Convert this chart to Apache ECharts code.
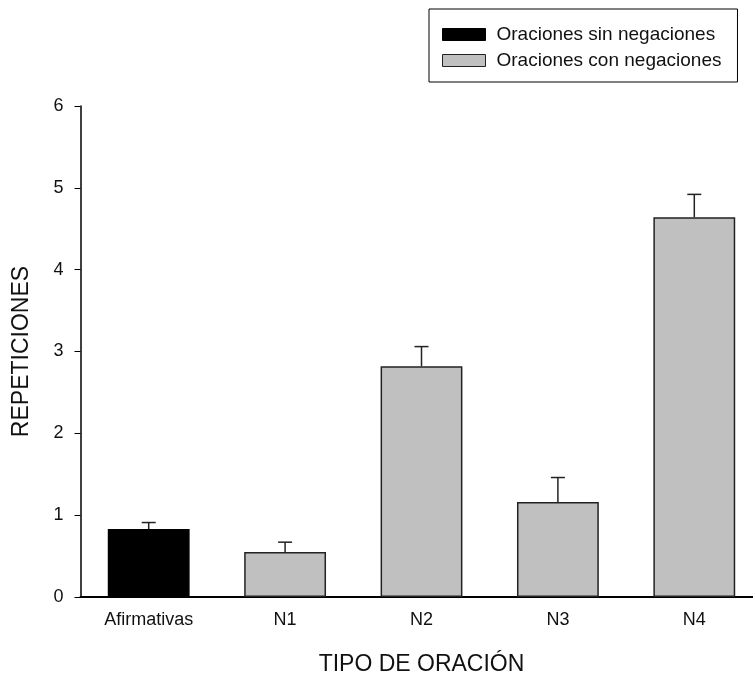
<!DOCTYPE html>
<html>
<head>
<meta charset="utf-8">
<script src="https://cdn.jsdelivr.net/npm/echarts@6/dist/echarts.min.js"></script>
<style>html,body{margin:0;padding:0;background:#fff}#c{width:753px;height:678px}</style>
</head>
<body>
<div id="c"></div>
<script>
const categories = ['Afirmativas', 'N1', 'N2', 'N3', 'N4'];
const seriesNames = ['Oraciones sin negaciones', 'Oraciones con negaciones'];
const sinNegaciones = [0.83, null, null, null, null];
const conNegaciones = [null, 0.55, 2.82, 1.16, 4.64];
const errorUpper = [0.91, 0.67, 3.06, 1.46, 4.92];
const yTicks = [0, 1, 2, 3, 4, 5, 6];

const means = categories.map((c, i) => sinNegaciones[i] != null ? sinNegaciones[i] : conNegaciones[i]);
const errData = categories.map((c, i) => [i, means[i], errorUpper[i]]);
const FONT = 'Liberation Sans, Arial, sans-serif';

const chart = echarts.init(document.getElementById('c'), null, {renderer: 'canvas'});
chart.setOption({
  animation: false,
  backgroundColor: '#fff',
  grid: {left: 80.5, top: 106, width: 682, height: 491, containLabel: false, outerBoundsMode: 'none'},
  legend: {
    orient: 'vertical',
    left: 429, top: 9,
    padding: [16, 16, 12, 13],
    borderColor: '#000', borderWidth: 1,
    icon: 'rect',
    itemWidth: 43, itemHeight: 12, itemGap: 7,
    selectedMode: false,
    textStyle: {fontFamily: FONT, fontSize: 19, color: '#111', padding: [0, 0, 0, 6]},
    data: [
      {name: seriesNames[0], itemStyle: {color: '#000', borderColor: '#000', borderWidth: 1}},
      {name: seriesNames[1], itemStyle: {color: '#c0c0c0', borderColor: '#222', borderWidth: 1}}
    ]
  },
  xAxis: {
    type: 'category',
    data: categories,
    name: 'TIPO DE ORACIÓN',
    nameLocation: 'middle',
    nameGap: 56,
    nameTextStyle: {fontFamily: FONT, fontSize: 23, color: '#111'},
    axisLine: {lineStyle: {color: '#000', width: 2}},
    axisTick: {alignWithLabel: true, length: 7, lineStyle: {color: '#000', width: 1}},
    axisLabel: {fontFamily: FONT, fontSize: 18, color: '#111', margin: 14},
    splitLine: {show: false}
  },
  yAxis: {
    type: 'value',
    min: 0, max: 6, interval: 1,
    name: 'REPETICIONES',
    nameLocation: 'middle',
    nameGap: 47,
    nameTextStyle: {fontFamily: FONT, fontSize: 23, color: '#111'},
    axisLine: {show: true, lineStyle: {color: '#000', width: 1.5}},
    axisTick: {show: true, length: 6, lineStyle: {color: '#000', width: 1}},
    axisLabel: {fontFamily: FONT, fontSize: 18, color: '#111', margin: 17,
      formatter: v => yTicks.includes(v) ? String(v) : ''},
    splitLine: {show: false}
  },
  series: [
    {
      name: seriesNames[0], type: 'bar', data: sinNegaciones,
      barWidth: '60%', barGap: '-100%',
      itemStyle: {color: '#000', borderColor: '#000', borderWidth: 1.5}
    },
    {
      name: seriesNames[1], type: 'bar', data: conNegaciones,
      barWidth: '60%', barGap: '-100%',
      itemStyle: {color: '#c0c0c0', borderColor: '#222', borderWidth: 1.5}
    },
    {
      type: 'custom', name: 'err', data: errData, z: 1,
      renderItem: function (params, api) {
        const x = api.value(0);
        const base = api.coord([x, api.value(1)]);
        const top = api.coord([x, api.value(2)]);
        const hw = 7;
        return {
          type: 'group',
          children: [
            {type: 'line', shape: {x1: base[0], y1: base[1], x2: top[0], y2: top[1]}, style: {stroke: '#222', lineWidth: 1.5}},
            {type: 'line', shape: {x1: top[0] - hw, y1: top[1], x2: top[0] + hw, y2: top[1]}, style: {stroke: '#222', lineWidth: 1.5}}
          ]
        };
      }
    }
  ]
});
</script>
</body>
</html>
